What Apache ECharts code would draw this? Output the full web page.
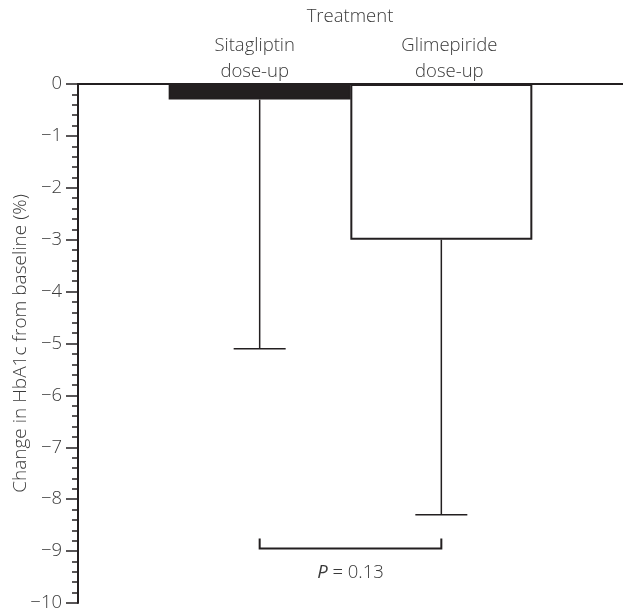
<!DOCTYPE html>
<html>
<head>
<meta charset="utf-8">
<script src="https://cdn.jsdelivr.net/npm/echarts@6/dist/echarts.min.js"></script>
<style>html,body{margin:0;padding:0;background:#fff}#c{width:623px;height:614px}</style>
</head>
<body>
<div id="c"></div>
<script>
const categories = ['', 'Sitagliptin\ndose-up', 'Glimepiride\ndose-up', ''];
const meanChange = [null, -0.3, -3.0, null];
const errorLow = [null, -5.1, -8.3, null];
const bracketLevel = -8.95;
const pValueText = '0.13';
const yTicks = [0, -1, -2, -3, -4, -5, -6, -7, -8, -9, -10];

const ink = '#231f20';
const txt = '#3a3a3a';
const font = '"Open Sans", "Noto Sans", sans-serif';
const fs = 18.5;

const chart = echarts.init(document.getElementById('c'));

const errData = [];
for (let i = 0; i < categories.length; i++) {
  if (meanChange[i] !== null) errData.push([i, meanChange[i], errorLow[i]]);
}
const barData = meanChange.map((v, i) => v === null ? null : {
  value: v,
  itemStyle: i === 1 ? { color: ink, borderColor: ink, borderWidth: 2 }
                     : { color: '#fff', borderColor: ink, borderWidth: 2 }
});

chart.setOption({
  animation: false,
  backgroundColor: '#fff',
  grid: { left: 78, right: 0, top: 84, bottom: 11, containLabel: false, outerBoundsMode: 'none' },
  graphic: [{
    type: 'text', x: 350, y: 17,
    style: { text: 'Treatment', fill: txt, font: '300 ' + fs + 'px ' + font, align: 'center', verticalAlign: 'middle' }
  }],
  xAxis: {
    type: 'category', data: categories, boundaryGap: false, position: 'top',
    axisLine: { show: true, lineStyle: { color: ink, width: 2 } },
    axisTick: { show: false },
    splitLine: { show: false },
    axisLabel: {
      margin: -1, color: txt, fontSize: fs, fontFamily: font, fontWeight: 300, lineHeight: 26,
      interval: 0,
      formatter: function (v, i) {
        if (!v) return '';
        const tag = i === 1 ? 'l' : 'r';
        return v.split('\n').map(s => '{' + tag + '|' + s + '}').join('\n');
      },
      rich: {
        l: { padding: [0, 10, 0, 0], color: txt, fontSize: fs, fontFamily: font, fontWeight: 300, lineHeight: 26 },
        r: { padding: [0, 0, 0, 16], color: txt, fontSize: fs, fontFamily: font, fontWeight: 300, lineHeight: 26 }
      }
    }
  },
  yAxis: {
    type: 'value', min: yTicks[yTicks.length - 1], max: yTicks[0], interval: 1,
    name: 'Change in HbA1c from baseline (%)', nameLocation: 'middle', nameGap: 48,
    nameMoveOverlap: false,
    nameTextStyle: { color: txt, fontSize: 19, fontFamily: font, fontWeight: 300 },
    axisLine: { show: true, lineStyle: { color: ink, width: 2 } },
    axisTick: { show: true, length: 12, lineStyle: { color: ink, width: 1.5 } },
    minorTick: { show: true, splitNumber: 5, length: 6, lineStyle: { color: ink, width: 1.5 } },
    splitLine: { show: false },
    axisLabel: {
      margin: 16, color: txt, fontSize: fs, fontFamily: font, fontWeight: 300,
      formatter: v => v === 0 ? '0' : '\u2212' + Math.abs(v)
    }
  },
  series: [
    {
      type: 'bar', data: barData, barWidth: 182, z: 2
    },
    {
      type: 'custom', data: errData, z: 3,
      renderItem: function (params, api) {
        const top = api.coord([api.value(0), api.value(1)]);
        const bot = api.coord([api.value(0), api.value(2)]);
        const s = { stroke: ink, lineWidth: 1.5 };
        return {
          type: 'group', children: [
            { type: 'line', shape: { x1: top[0], y1: top[1], x2: bot[0], y2: bot[1] }, style: s },
            { type: 'line', shape: { x1: bot[0] - 26, y1: bot[1], x2: bot[0] + 26, y2: bot[1] }, style: s }
          ]
        };
      }
    },
    {
      type: 'custom', data: [[1, 2, bracketLevel]], z: 3,
      renderItem: function (params, api) {
        const a = api.coord([api.value(0), api.value(2)]);
        const b = api.coord([api.value(1), api.value(2)]);
        const s = { stroke: ink, lineWidth: 2, fill: null };
        return {
          type: 'group', children: [
            { type: 'polyline', shape: { points: [[a[0], a[1] - 10], [a[0], a[1]], [b[0], b[1]], [b[0], b[1] - 10]] }, style: s },
            { type: 'text', x: (a[0] + b[0]) / 2, y: a[1] + 24,
              style: { text: '{i|P} = ' + pValueText, align: 'center', verticalAlign: 'middle',
                fill: txt, font: '300 ' + fs + 'px ' + font,
                rich: { i: { fontStyle: 'italic', fontSize: fs, fontFamily: font, fill: txt } } } }
          ]
        };
      }
    }
  ]
});
</script>
</body>
</html>
